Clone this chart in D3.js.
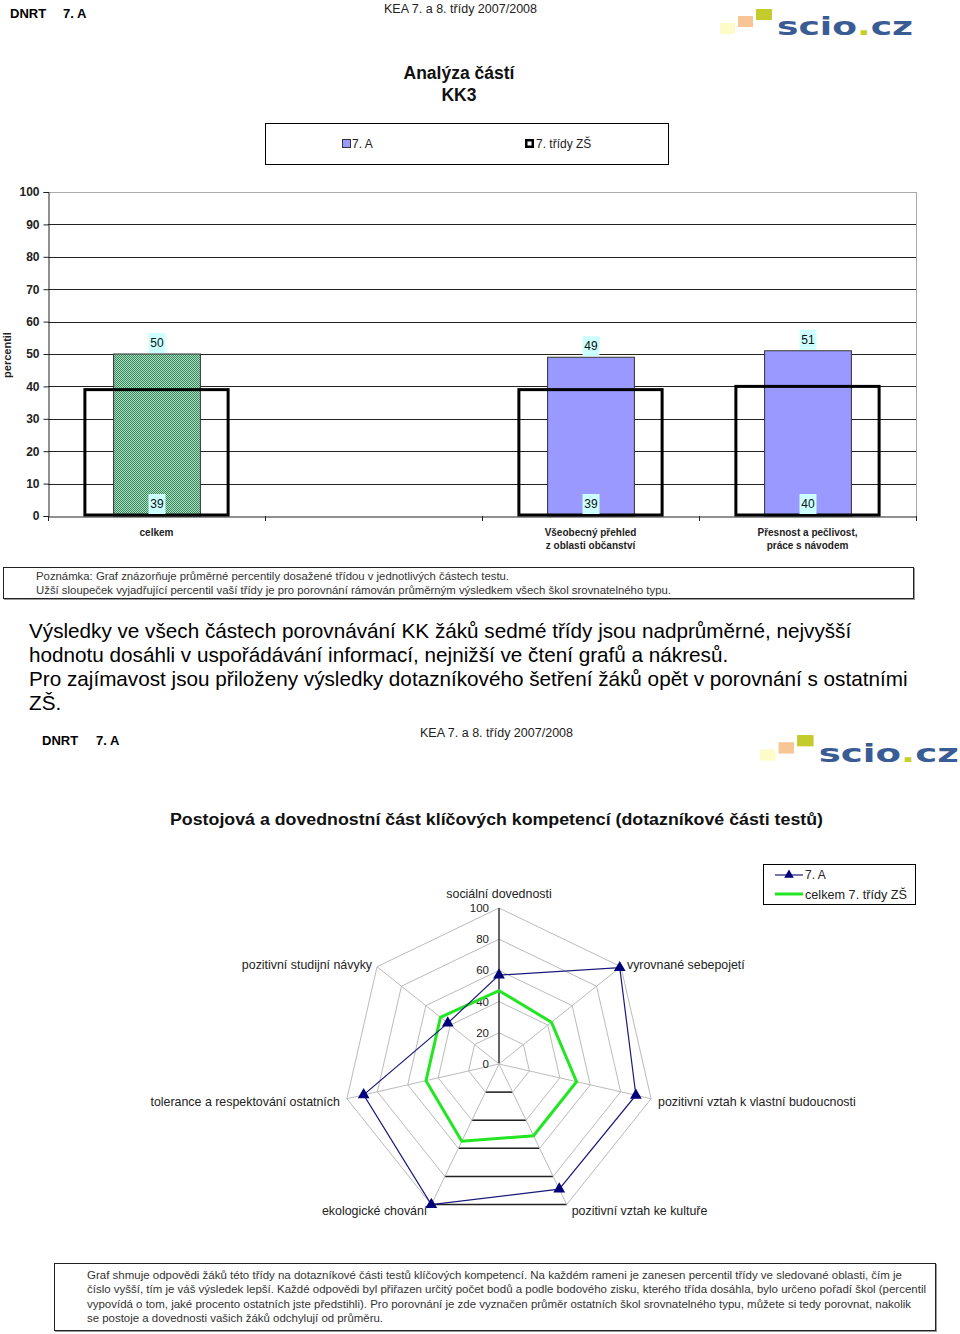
<!DOCTYPE html>
<html><head><meta charset="utf-8">
<script src="https://cdn.jsdelivr.net/npm/d3@7"></script>
<style>
body{margin:0;background:#fff;}
svg{display:block;font-family:"Liberation Sans",Arial,sans-serif;}
</style></head>
<body>
<script>
// ---------- DATA ----------
const barCategories = ["celkem", "", "Všeobecný přehled|z oblasti občanství", "Přesnost a pečlivost,|práce s návodem"];
const classValues = [50, null, 49, 51];      // 7. A
const schoolValues = [39, null, 39, 40];     // 7. třídy ZŠ
const barTicks = [0,10,20,30,40,50,60,70,80,90,100];

const radarAxes = ["sociální dovednosti","vyrovnané sebepojetí","pozitivní vztah k vlastní budoucnosti","pozitivní vztah ke kultuře","ekologické chování","tolerance a respektování ostatních","pozitivní studijní návyky"];
const radarClass = [57, 99, 90, 89, 100, 89, 42];
const radarAll = [47, 43, 51, 51, 55, 48, 48];
const radarTicks = [0,20,40,60,80,100];

const note1 = ["Poznámka: Graf znázorňuje průměrné percentily dosažené třídou v jednotlivých částech testu.",
"Užší sloupeček vyjadřující percentil vaší třídy je pro porovnání rámován průměrným výsledkem všech škol srovnatelného typu."];
const paragraph = ["Výsledky ve všech částech porovnávání KK žáků sedmé třídy jsou nadprůměrné, nejvyšší",
"hodnotu dosáhli v uspořádávání informací, nejnižší ve čtení grafů a nákresů.",
"Pro zajímavost jsou přiloženy výsledky dotazníkového šetření žáků opět v porovnání s ostatními",
"ZŠ."];
const note2 = ["Graf shmuje odpovědi žáků této třídy na dotazníkové části testů klíčových kompetencí. Na každém rameni je zanesen percentil třídy ve sledované oblasti, čím je",
"číslo vyšší, tím je váš výsledek lepší. Každé odpovědi byl přiřazen určitý počet bodů a podle bodového zisku, kterého třída dosáhla, bylo určeno pořadí škol (percentil",
"vypovídá o tom, jaké procento ostatních jste předstihli). Pro porovnání je zde vyznačen průměr ostatních škol srovnatelného typu, můžete si tedy porovnat, nakolik",
"se postoje a dovednosti vašich žáků odchylují od průměru."];

// ---------- SVG ----------
const svg = d3.select("body").append("svg").attr("width",960).attr("height",1334);
const defs = svg.append("defs");
const pat = defs.append("pattern").attr("id","grn").attr("width",2).attr("height",2).attr("patternUnits","userSpaceOnUse");
pat.append("rect").attr("width",2).attr("height",2).attr("fill","#b5dcc2");
pat.append("rect").attr("width",1).attr("height",1).attr("fill","#2f8a5a");
pat.append("rect").attr("x",1).attr("y",1).attr("width",1).attr("height",1).attr("fill","#2f8a5a");

function header(x1, x2, y1, y2, kx, ky){
  svg.append("text").attr("x",x1).attr("y",y1).attr("font-size",13).attr("font-weight","bold").text("DNRT");
  svg.append("text").attr("x",x2).attr("y",y1).attr("font-size",13).attr("font-weight","bold").text("7. A");
  svg.append("text").attr("x",kx).attr("y",ky).attr("font-size",12.5).attr("fill","#222")
     .attr("textLength",153).attr("lengthAdjust","spacingAndGlyphs").text("KEA 7. a 8. třídy 2007/2008");
}
function logo(x0, y0, s){
  const g = svg.append("g").attr("transform",`translate(${x0},${y0}) scale(${s})`);
  g.append("rect").attr("x",0).attr("y",14).attr("width",15).attr("height",11).attr("fill","#fdfbc8");
  g.append("rect").attr("x",18).attr("y",7).attr("width",15).attr("height",11).attr("fill","#f8c596");
  g.append("rect").attr("x",36).attr("y",0).attr("width",16).attr("height",11).attr("fill","#c4cb2c");
  const t = g.append("text").attr("x",57).attr("y",26).attr("font-size",24).attr("font-weight","bold")
    .attr("font-family","DejaVu Sans").attr("fill","#3a5c94")
    .attr("textLength",136).attr("lengthAdjust","spacingAndGlyphs");
  t.append("tspan").text("scio");
  t.append("tspan").attr("fill","#c9cf2a").text(".");
  t.append("tspan").text("cz");
}
header(10, 63, 18, 18, 384, 13);
logo(720, 9, 1);
header(42, 96, 745, 745, 420, 737);
logo(760, 735, 1.03);

// ---------- BAR CHART ----------
svg.append("text").attr("x",459).attr("y",79).attr("text-anchor","middle").attr("font-size",17.5).attr("font-weight","bold").attr("fill","#111").text("Analýza částí");
svg.append("text").attr("x",459).attr("y",101).attr("text-anchor","middle").attr("font-size",17.5).attr("font-weight","bold").attr("fill","#111").text("KK3");

// legend
svg.append("rect").attr("x",265.5).attr("y",123.5).attr("width",403).attr("height",41).attr("fill","none").attr("stroke","#000");
svg.append("rect").attr("x",342.5).attr("y",139.5).attr("width",8).attr("height",8).attr("fill","#9999ff").attr("stroke","#333");
svg.append("text").attr("x",352).attr("y",148).attr("font-size",12).attr("fill","#222").text("7. A");
svg.append("rect").attr("x",525).attr("y",139).attr("width",9).attr("height",9).attr("fill","#000");
svg.append("rect").attr("x",527.5).attr("y",141.5).attr("width",4).attr("height",4).attr("fill","#fff");
svg.append("text").attr("x",536).attr("y",148).attr("font-size",12).attr("fill","#222").text("7. třídy ZŠ");

const x = d3.scaleBand().domain(barCategories).range([48,916]).padding(0);
const y = d3.scaleLinear().domain([0,100]).range([516,192]);
const bw = x.bandwidth();

// grid
svg.append("g").selectAll("line").data(barTicks.filter(t=>t>0)).join("line")
  .attr("x1",48).attr("x2",916).attr("y1",d=>Math.round(y(d))+0.5).attr("y2",d=>Math.round(y(d))+0.5)
  .attr("stroke",d=>d===100?"#aaa":"#222").attr("stroke-width",1);
svg.append("line").attr("x1",916.5).attr("x2",916.5).attr("y1",192).attr("y2",516).attr("stroke","#aaa");

// y axis
const yAxis = svg.append("g").attr("transform","translate(48.5,0)")
  .call(d3.axisLeft(y).tickValues(barTicks).tickSize(5).tickPadding(4).tickFormat(d3.format("d")));
yAxis.select(".domain").attr("stroke","#222");
yAxis.selectAll("text").attr("font-size",12).attr("font-weight","bold").attr("fill","#222").attr("font-family","Liberation Sans, Arial");
yAxis.selectAll(".tick line").attr("stroke","#222");

// x axis
const xAxis = svg.append("g").attr("transform","translate(0,516.5)")
  .call(d3.axisBottom(x).tickSize(0).tickFormat(""));
xAxis.select(".domain").attr("stroke","#222");
svg.append("g").selectAll("line").data(barCategories.concat(["__end"])).join("line")
  .attr("x1",(d,i)=>Math.round(48+i*bw)+0.5).attr("x2",(d,i)=>Math.round(48+i*bw)+0.5)
  .attr("y1",516).attr("y2",521).attr("stroke","#222");
// x labels
barCategories.forEach(c=>{
  const lines = c.split("|");
  const cx = x(c)+bw/2;
  lines.forEach((l,i)=>{
    svg.append("text").attr("x",cx).attr("y",536+i*13).attr("text-anchor","middle")
      .attr("font-size",10).attr("font-weight","bold").attr("fill","#222").text(l);
  });
});

const innerW = bw*0.40, frameW = bw*0.66;
const barData = barCategories.map((c,i)=>({c, a:classValues[i], s:schoolValues[i], i}));
const valid = barData.filter(d=>d.a!=null);
// class bars
svg.append("g").selectAll("rect").data(valid).join("rect")
  .attr("x",d=>x(d.c)+bw/2-innerW/2+0.5).attr("width",innerW)
  .attr("y",d=>y(d.a)).attr("height",d=>y(0)-y(d.a))
  .attr("fill",d=>d.i===0?"url(#grn)":"#9999ff").attr("stroke","#333").attr("stroke-width",1);
// frames
svg.append("g").selectAll("rect").data(valid).join("rect")
  .attr("x",d=>x(d.c)+bw/2-frameW/2).attr("width",frameW)
  .attr("y",d=>y(d.s)).attr("height",d=>y(0)-y(d.s)-1)
  .attr("fill","none").attr("stroke","#000").attr("stroke-width",3);
// labels
valid.forEach(d=>{
  const cx = x(d.c)+bw/2+0.5;
  const ty = y(d.a);
  svg.append("rect").attr("x",cx-8.5).attr("y",ty-21).attr("width",17).attr("height",20).attr("fill","#ccffff");
  svg.append("text").attr("x",cx).attr("y",ty-7).attr("text-anchor","middle").attr("font-size",12).attr("fill","#111").text(d.a);
  svg.append("rect").attr("x",cx-8.5).attr("y",y(0)-22).attr("width",17).attr("height",20).attr("fill","#ccffff");
  svg.append("text").attr("x",cx).attr("y",y(0)-8).attr("text-anchor","middle").attr("font-size",12).attr("fill","#111").text(d.s);
});
svg.append("text").attr("transform","translate(11,355) rotate(-90)").attr("text-anchor","middle")
  .attr("font-size",11).attr("font-weight","bold").attr("fill","#222").text("percentil");

// note box
function noteBox(bx, by, bw2, bh, lines, tx, ty, lh, widths){
  svg.append("rect").attr("x",bx+1.5).attr("y",by+1.5).attr("width",bw2).attr("height",bh).attr("fill","none").attr("stroke","#999").attr("stroke-width",1);
  svg.append("rect").attr("x",bx+0.5).attr("y",by+0.5).attr("width",bw2).attr("height",bh).attr("fill","#fff").attr("stroke","#222").attr("stroke-width",1);
  lines.forEach((l,i)=>{
    svg.append("text").attr("x",tx).attr("y",ty+i*lh).attr("font-size",11).attr("fill","#333")
      .attr("textLength",widths[i]).attr("lengthAdjust","spacingAndGlyphs").text(l);
  });
}
noteBox(3, 567, 910, 31, note1, 36, 580, 14, [473, 635]);

// paragraph
paragraph.forEach((l,i)=>{
  svg.append("text").attr("x",29).attr("y",638+i*24).attr("font-size",20.7).attr("fill","#000").text(l);
});

// ---------- RADAR ----------
svg.append("text").attr("x",170).attr("y",825).attr("font-size",16).attr("font-weight","bold").attr("fill","#111")
  .attr("textLength",653).attr("lengthAdjust","spacingAndGlyphs").text("Postojová a dovednostní část klíčových kompetencí (dotazníkové části testů)");

const cx0 = 499, cy0 = 1064;
const r = d3.scaleLinear().domain([0,100]).range([0,156]);
const ang = i => -Math.PI/2 + i*2*Math.PI/radarAxes.length;
const pt = (i,v) => [cx0 + r(v)*Math.cos(ang(i)), cy0 + r(v)*Math.sin(ang(i))];
const rg = svg.append("g");
// rings
radarTicks.filter(t=>t>0).forEach(t=>{
  const pts = radarAxes.map((a,i)=>pt(i,t));
  rg.append("path").attr("d",d3.line()(pts)+"Z").attr("fill","none").attr("stroke","#bbb").attr("stroke-width",1);
  rg.append("line").attr("x1",pts[3][0]).attr("y1",pts[3][1]).attr("x2",pts[4][0]).attr("y2",pts[4][1])
    .attr("stroke","#222").attr("stroke-width",1.5);
});
// spokes
radarAxes.forEach((a,i)=>{
  const p = pt(i,100);
  rg.append("line").attr("x1",cx0).attr("y1",cy0).attr("x2",p[0]).attr("y2",p[1])
    .attr("stroke",i===0?"#333":"#bbb").attr("stroke-width",i===0?1.5:1);
});
// tick labels
radarTicks.forEach(t=>{
  rg.append("text").attr("x",cx0-10).attr("y",cy0-r(t)+4).attr("text-anchor","end").attr("font-size",11.5).attr("fill","#222").text(t);
});
// axis labels
const labelPos = [
  {dx:0, dy:-10.5, anchor:"middle"},
  {dx:6, dy:2, anchor:"start"},
  {dx:7, dy:7, anchor:"start"},
  {dx:5, dy:10, anchor:"start"},
  {dx:-4, dy:10, anchor:"end"},
  {dx:-7, dy:7, anchor:"end"},
  {dx:-5, dy:2, anchor:"end"}
];
radarAxes.forEach((a,i)=>{
  const p = pt(i,100);
  rg.append("text").attr("x",p[0]+labelPos[i].dx).attr("y",p[1]+labelPos[i].dy).attr("text-anchor",labelPos[i].anchor)
    .attr("font-size",12.4).attr("fill","#222").text(a);
});
// series
rg.append("path").attr("d",d3.line()(radarAll.map((v,i)=>pt(i,v)))+"Z").attr("fill","none").attr("stroke","#22e622").attr("stroke-width",3);
rg.append("path").attr("d",d3.line()(radarClass.map((v,i)=>pt(i,v)))+"Z").attr("fill","none").attr("stroke","#1a1a7a").attr("stroke-width",1.2);
const tri = d3.symbol().type(d3.symbolTriangle).size(60);
rg.selectAll(".mk").data(radarClass).join("path").attr("class","mk")
  .attr("transform",(v,i)=>{const p=pt(i,v);return `translate(${p[0]},${p[1]})`;})
  .attr("d",tri).attr("fill","#00007a");
// radar legend
svg.append("rect").attr("x",763.5).attr("y",864.5).attr("width",152).attr("height",40).attr("fill","#fff").attr("stroke","#000");
svg.append("line").attr("x1",775).attr("x2",803).attr("y1",875).attr("y2",875).attr("stroke","#1a1a7a").attr("stroke-width",1.2);
svg.append("path").attr("transform","translate(789,875)").attr("d",d3.symbol().type(d3.symbolTriangle).size(40)).attr("fill","#00007a");
svg.append("text").attr("x",805).attr("y",879).attr("font-size",12).attr("fill","#222").text("7. A");
svg.append("line").attr("x1",775).attr("x2",803).attr("y1",894).attr("y2",894).attr("stroke","#22e622").attr("stroke-width",3);
svg.append("text").attr("x",805).attr("y",899).attr("font-size",12).attr("fill","#222")
  .attr("textLength",102).attr("lengthAdjust","spacingAndGlyphs").text("celkem 7. třídy ZŠ");

// note box 2
noteBox(54, 1263, 881, 67, note2, 87, 1279, 14.4, [815, 839, 824, 296]);
</script>
</body></html>
